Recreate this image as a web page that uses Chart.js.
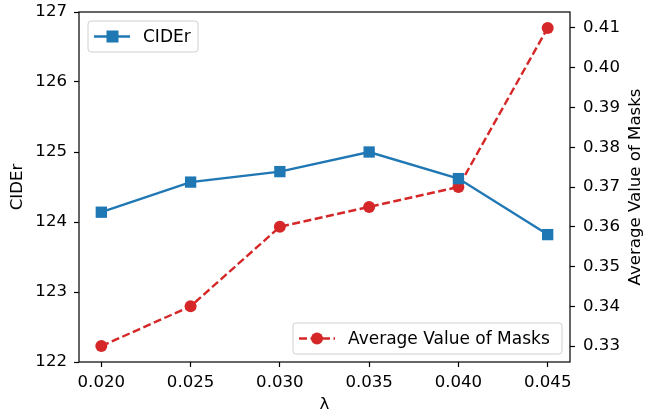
<!DOCTYPE html>
<html>
<head>
<meta charset="utf-8">
<script src="https://cdn.jsdelivr.net/npm/chart.js@4/dist/chart.umd.min.js"></script>
<style>
    html, body { margin: 0; padding: 0; background: #fff; }
    #wrap { width: 652px; height: 413px; }
</style>
</head>
<body>
<div id="wrap"><canvas id="lambda-chart"></canvas></div>
<script>
const lambdas = [0.020, 0.025, 0.030, 0.035, 0.040, 0.045]
const cider = [124.14, 124.57, 124.72, 125.00, 124.62, 123.82]
const maskAvg = [0.330, 0.340, 0.360, 0.365, 0.370, 0.410]
const xTicks = [0.020, 0.025, 0.030, 0.035, 0.040, 0.045]
const leftTicks = [122, 123, 124, 125, 126, 127]
const rightTicks = [0.33, 0.34, 0.35, 0.36, 0.37, 0.38, 0.39, 0.40, 0.41]

const BLUE = '#1f77b4'
const RED = '#d62728'
const FONT = 'DejaVu Sans'
const FS = 16.6

Chart.defaults.font.family = FONT
Chart.defaults.font.size = FS
Chart.defaults.color = '#000'

const setTicks = (vals) => (scale) => {
    scale.ticks = vals.map(v => ({ value: v }))
}

// fixed axis sizes so the plot box lands where matplotlib put it
const fixSize = (w, h) => (s) => {
    if (w !== null) s.width = w
    if (h !== null) s.height = h
    s.paddingTop = 0
    s.paddingBottom = 0
    s.paddingLeft = 0
    s.paddingRight = 0
}

// axes frame, right axis title and the two matplotlib-style legends
const framePlugin = {
    id: 'frame',
    afterDraw(chart) {
        const { ctx, chartArea: a } = chart
        ctx.save()
        ctx.strokeStyle = '#000'
        ctx.lineWidth = 1.2
        ctx.strokeRect(a.left, a.top, a.right - a.left, a.bottom - a.top)

        ctx.save()
        ctx.translate(636, (a.top + a.bottom) / 2)
        ctx.rotate(-Math.PI / 2)
        ctx.fillStyle = '#000'
        ctx.font = FS + 'px ' + FONT
        ctx.textAlign = 'center'
        ctx.textBaseline = 'middle'
        ctx.fillText('Average Value of Masks', 0, 0)
        ctx.restore()

        const legend = (x, y, w, h, color, dash, marker, text) => {
            ctx.save()
            ctx.fillStyle = 'rgba(255,255,255,0.8)'
            ctx.strokeStyle = '#d0d0d0'
            ctx.lineWidth = 1
            ctx.beginPath()
            ctx.roundRect(x, y, w, h, 3)
            ctx.fill()
            ctx.stroke()
            const cy = y + h / 2
            ctx.strokeStyle = color
            ctx.lineWidth = 2.4
            ctx.setLineDash(dash)
            ctx.beginPath()
            ctx.moveTo(x + 6, cy)
            ctx.lineTo(x + 42, cy)
            ctx.stroke()
            ctx.setLineDash([])
            ctx.fillStyle = color
            if (marker === 'rect') {
                ctx.fillRect(x + 18.5, cy - 6, 12, 12)
            } else {
                ctx.beginPath()
                ctx.arc(x + 24, cy, 6, 0, Math.PI * 2)
                ctx.fill()
            }
            ctx.fillStyle = '#000'
            ctx.font = '17px ' + FONT
            ctx.textBaseline = 'middle'
            ctx.fillText(text, x + 55, cy + 1)
            ctx.restore()
        }
        legend(a.left + 9, a.top + 9, 110, 31, BLUE, [], 'rect', 'CIDEr')
        legend(a.left + 214, a.bottom - 39, 269, 31, RED, [8, 3.5], 'circle', 'Average Value of Masks')
        ctx.restore()
    }
}

const ctx = document.getElementById('lambda-chart')

new Chart(ctx, {
    type: 'line',
    data: {
        datasets: [{
            label: 'CIDEr',
            data: lambdas.map((x, i) => ({ x: x, y: cider[i] })),
            yAxisID: 'y',
            borderColor: BLUE,
            backgroundColor: BLUE,
            borderWidth: 2.4,
            pointStyle: 'rect',
            pointRadius: 8,
            pointHoverRadius: 8,
            pointBorderWidth: 0,
        }, {
            label: 'Average Value of Masks',
            data: lambdas.map((x, i) => ({ x: x, y: maskAvg[i] })),
            yAxisID: 'y1',
            borderColor: RED,
            backgroundColor: RED,
            borderWidth: 2.4,
            borderDash: [8, 3.5],
            pointStyle: 'circle',
            pointRadius: 6,
            pointHoverRadius: 6,
            pointBorderWidth: 0,
        }],
    },
    options: {
        responsive: true,
        maintainAspectRatio: false,
        animation: false,
        events: [],
        layout: { padding: { top: 12, left: 0, right: 0, bottom: 0 } },
        plugins: {
            legend: { display: false },
            tooltip: { enabled: false },
        },
        scales: {
            x: {
                type: 'linear',
                min: 0.01875,
                max: 0.04625,
                afterBuildTicks: setTicks(xTicks),
                afterFit: fixSize(null, 51),
                border: { display: false },
                grid: { drawOnChartArea: false, tickLength: 5, tickColor: '#000', tickWidth: 1.2 },
                ticks: { padding: 6, maxRotation: 0, callback: (v) => v.toFixed(3) },
                title: { display: true, text: 'λ', font: { lineHeight: 1 }, padding: { top: 0, bottom: 0 } },
            },
            y: {
                position: 'left',
                min: 122,
                max: 127,
                afterBuildTicks: setTicks(leftTicks),
                afterFit: fixSize(79, null),
                border: { display: false },
                grid: { drawOnChartArea: false, tickLength: 5, tickColor: '#000', tickWidth: 1.2 },
                ticks: { padding: 7, callback: (v) => v.toFixed(0) },
                title: { display: true, text: 'CIDEr', padding: { top: 8, bottom: 0 } },
            },
            y1: {
                position: 'right',
                min: 0.326,
                max: 0.414,
                afterBuildTicks: setTicks(rightTicks),
                afterFit: fixSize(82, null),
                border: { display: false },
                grid: { drawOnChartArea: false, tickLength: 5, tickColor: '#000', tickWidth: 1.2 },
                ticks: { padding: 8, callback: (v) => v.toFixed(2) },
            },
        },
    },
    plugins: [framePlugin],
})
</script>
</body>
</html>
